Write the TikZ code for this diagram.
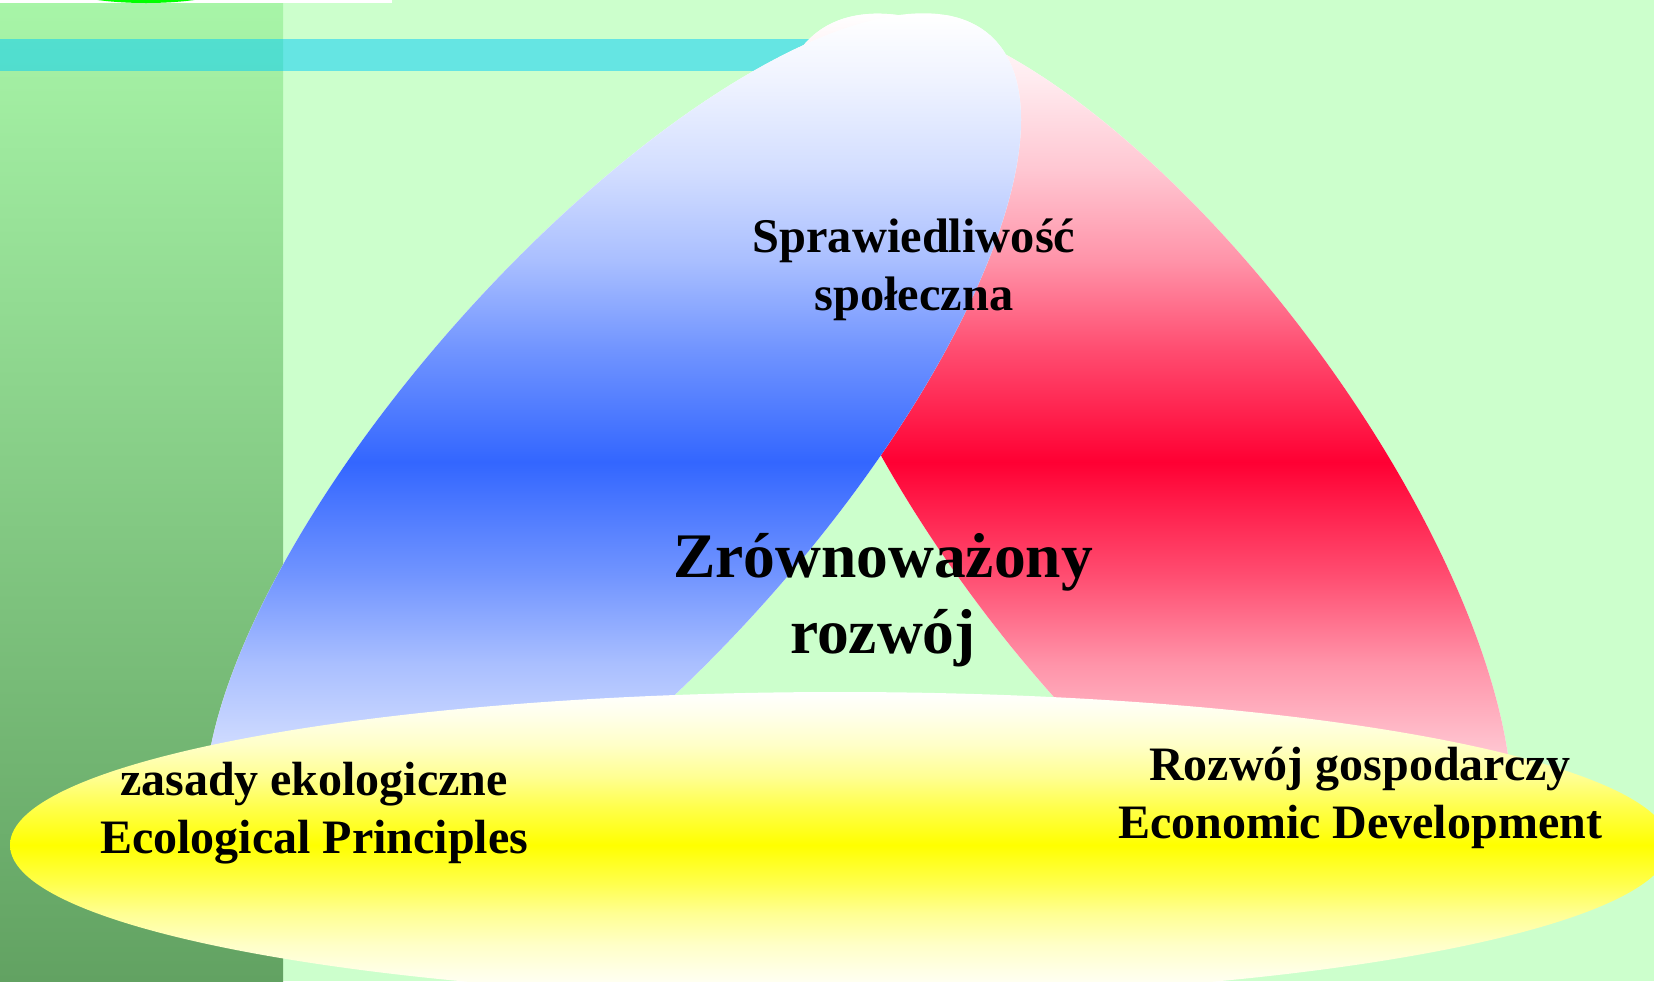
\documentclass[tikz,border=0pt]{standalone}
\usepackage{fontspec}
\setmainfont{Liberation Serif}

\definecolor{bg}{RGB}{204,255,204}
\definecolor{stripTop}{RGB}{168,245,168}
\definecolor{stripBot}{RGB}{98,162,98}
\definecolor{bandcyan}{RGB}{0,205,250}
\definecolor{pblue}{RGB}{51,102,255}
\definecolor{pred}{RGB}{255,0,51}
\definecolor{pyellow}{RGB}{255,255,0}
\definecolor{pgreen}{RGB}{0,255,0}

% vertical band: white at both edges, full colour in the middle
\newcommand{\defineband}[2]{%
  \colorlet{#1-a}{#2!8!white}%
  \colorlet{#1-b}{#2!22!white}%
  \colorlet{#1-c}{#2!42!white}%
  \colorlet{#1-d}{#2!70!white}%
  \pgfdeclareverticalshading{#1}{100bp}{color(0bp)=(white); color(25bp)=(white);
    color(28.75bp)=(#1-a); color(33.75bp)=(#1-b); color(38.75bp)=(#1-c);
    color(43.75bp)=(#1-d); color(50bp)=(#2); color(56.25bp)=(#1-d);
    color(61.25bp)=(#1-c); color(66.25bp)=(#1-b); color(71.25bp)=(#1-a);
    color(75bp)=(white); color(100bp)=(white)}}
\defineband{blueband}{pblue}
\defineband{redband}{pred}
\defineband{yellowband}{pyellow}

\begin{document}
\begin{tikzpicture}[x=0.5pt,y=-0.5pt,
  lbl/.style={font=\bfseries\fontsize{24}{29}\selectfont, align=center,
    anchor=base, inner sep=0pt, text=black}]
\useasboundingbox (0,0) rectangle (1654,981);

% background, side strip and top decorations
\fill[bg] (0,0) rectangle (1654,981);
\shade[top color=stripTop, bottom color=stripBot] (0,0) rectangle (283,981);
\fill[white] (0,0) rectangle (392,3);
\begin{scope}
  \clip (0,0) rectangle (1654,981);
  \fill[pgreen] (146,-21) ellipse (100 and 24);
\end{scope}
\fill[bandcyan, opacity=0.5] (0,39) rectangle (900,71);

% economic petal (red)
\coordinate (rc) at (1144,472);
\begin{scope}
  \clip[rotate around={-53.5:(rc)}] (rc) ellipse (548 and 212);
  \fill[white] (500,0) rectangle (1654,981);
  \shade[shading=redband] (500,12) rectangle (1654,912);
\end{scope}

% ecological petal (blue)
\coordinate (bc) at (613,460);
\begin{scope}
  \clip[rotate around={48.4:(bc)}] (bc) ellipse (568 and 208);
  \fill[white] (100,0) rectangle (1200,981);
  \shade[shading=blueband] (100,15) rectangle (1200,909);
\end{scope}

% base ellipse (yellow)
\coordinate (yc) at (840,845);
\begin{scope}
  \clip (yc) ellipse (830 and 153);
  \shade[shading=yellowband] (0,692) rectangle (1700,998);
\end{scope}

% labels (anchored at the baseline of their last line)
\node[lbl, font=\bfseries\fontsize{24.2}{28.6}\selectfont] (social) at (914,310) {Sprawiedliwość\\społeczna};
\node[lbl, font=\bfseries\fontsize{31.75}{38}\selectfont] (core) at (883,653) {Zrównoważony\\rozwój};
\node[lbl] (eco) at (314,853) {zasady ekologiczne\\Ecological Principles};
\node[lbl] (econ) at (1360,838) {Rozwój gospodarczy\\Economic Development};
\end{tikzpicture}
\end{document}
